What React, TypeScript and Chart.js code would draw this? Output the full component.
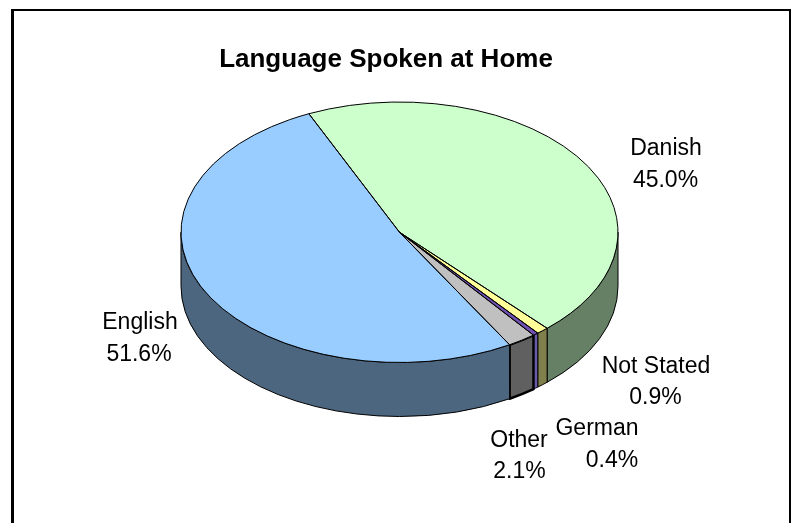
import React, { useEffect, useRef } from "react";
import { Chart, registerables } from "chart.js";

Chart.register(...registerables);

const categories = ["Danish", "Not Stated", "German", "Other", "English"];
const values = [45.0, 0.9, 0.4, 2.1, 51.6];
const topColors = ["#CCFFCC", "#FFFF99", "#7050B0", "#C0C0C0", "#99CCFF"];
const sideColors = ["#668066", "#80804C", "#6A5AA8", "#606060", "#4C6680"];
const titleText = "Language Spoken at Home";

// layout constants
const CX = 399.5, CY = 232.25, RX = 218.5, RY = 130.25, DEPTH = 54;
// [x of first line, baseline of first line, x of second line, baseline of second line]
const labelAnchors = [
  [666, 154.5, 665.5, 186.5],
  [656, 372.5, 655.5, 404],
  [597, 435, 612, 466.5],
  [519, 446.5, 519.5, 478],
  [140, 329, 139, 360.5],
];
const FONT = "'Liberation Sans', Arial, sans-serif";

const pie3d = {
  id: "pie3d",
  beforeDraw(chart: any) {
    const { ctx, width, height } = chart;
    ctx.save();
    ctx.fillStyle = "#fff";
    ctx.fillRect(0, 0, width, height);
    ctx.fillStyle = "#000";
    ctx.fillRect(11, 9, 3, height - 9);
    ctx.fillRect(11, 9, 780, 2);
    ctx.fillRect(789, 9, 2, height - 9);
    ctx.restore();
  },
  beforeDatasetsDraw(chart: any) {
    const { ctx } = chart;
    const arcs = chart.getDatasetMeta(0).data;
    const TAU = Math.PI * 2;
    ctx.save();
    ctx.lineJoin = "round";
    arcs.forEach((arc: any, i: number) => {
      for (let k = -1; k <= 1; k++) {
        const a0 = Math.max(arc.startAngle + k * TAU, 0);
        const a1 = Math.min(arc.endAngle + k * TAU, Math.PI);
        if (a1 <= a0) continue;
        ctx.beginPath();
        ctx.ellipse(CX, CY, RX, RY, 0, a0, a1, false);
        ctx.ellipse(CX, CY + DEPTH, RX, RY, 0, a1, a0, true);
        ctx.closePath();
        ctx.fillStyle = sideColors[i];
        ctx.fill();
        ctx.strokeStyle = "#000";
        ctx.lineWidth = categories[i] === "Other" ? 2.5 : 1;
        ctx.stroke();
      }
    });
    ctx.restore();
  },
  beforeDatasetDraw(chart: any) {
    const { ctx } = chart;
    const a = chart.getDatasetMeta(0).data[0];
    const R = a.outerRadius;
    ctx.save();
    ctx.translate(CX, CY);
    ctx.scale(RX / R, RY / R);
    ctx.translate(-a.x, -a.y);
  },
  afterDatasetDraw(chart: any) {
    chart.ctx.restore();
  },
  afterDatasetsDraw(chart: any) {
    const { ctx } = chart;
    const arcs = chart.getDatasetMeta(0).data;
    ctx.save();
    ctx.strokeStyle = "#000";
    ctx.lineWidth = 1;
    ctx.lineJoin = "round";
    arcs.forEach((arc: any) => {
      ctx.beginPath();
      ctx.moveTo(CX, CY);
      ctx.ellipse(CX, CY, RX, RY, 0, arc.startAngle, arc.endAngle, false);
      ctx.closePath();
      ctx.stroke();
    });
    ctx.fillStyle = "#000";
    ctx.font = `23px ${FONT}`;
    ctx.textAlign = "center";
    ctx.textBaseline = "alphabetic";
    categories.forEach((name, i) => {
      const [x1, y1, x2, y2] = labelAnchors[i];
      ctx.fillText(name, x1, y1);
      ctx.fillText(`${values[i].toFixed(1)}%`, x2, y2);
    });
    ctx.restore();
  },
};

export default function App() {
  const ref = useRef<HTMLCanvasElement>(null);
  useEffect(() => {
    const chart = new Chart(ref.current as any, {
      type: "pie",
      data: {
        labels: categories,
        datasets: [
          {
            data: values,
            backgroundColor: topColors,
            borderWidth: 0,
            clip: false,
          } as any,
        ],
      },
      options: {
        responsive: false,
        animation: false,
        rotation: -24.5,
        layout: { padding: { right: 23 } },
        plugins: {
          legend: { display: false },
          tooltip: { enabled: false },
          title: {
            display: true,
            text: titleText,
            color: "#000",
            font: { family: FONT, size: 26, weight: "bold" },
            padding: { top: 44, bottom: 10 },
          },
        },
      },
      plugins: [pie3d],
    } as any);
    return () => chart.destroy();
  }, []);
  return (
    <div style={{ position: "fixed", left: 0, top: 0, width: 795, height: 523 }}>
      <canvas ref={ref} width={795} height={523} style={{ display: "block" }} />
    </div>
  );
}
